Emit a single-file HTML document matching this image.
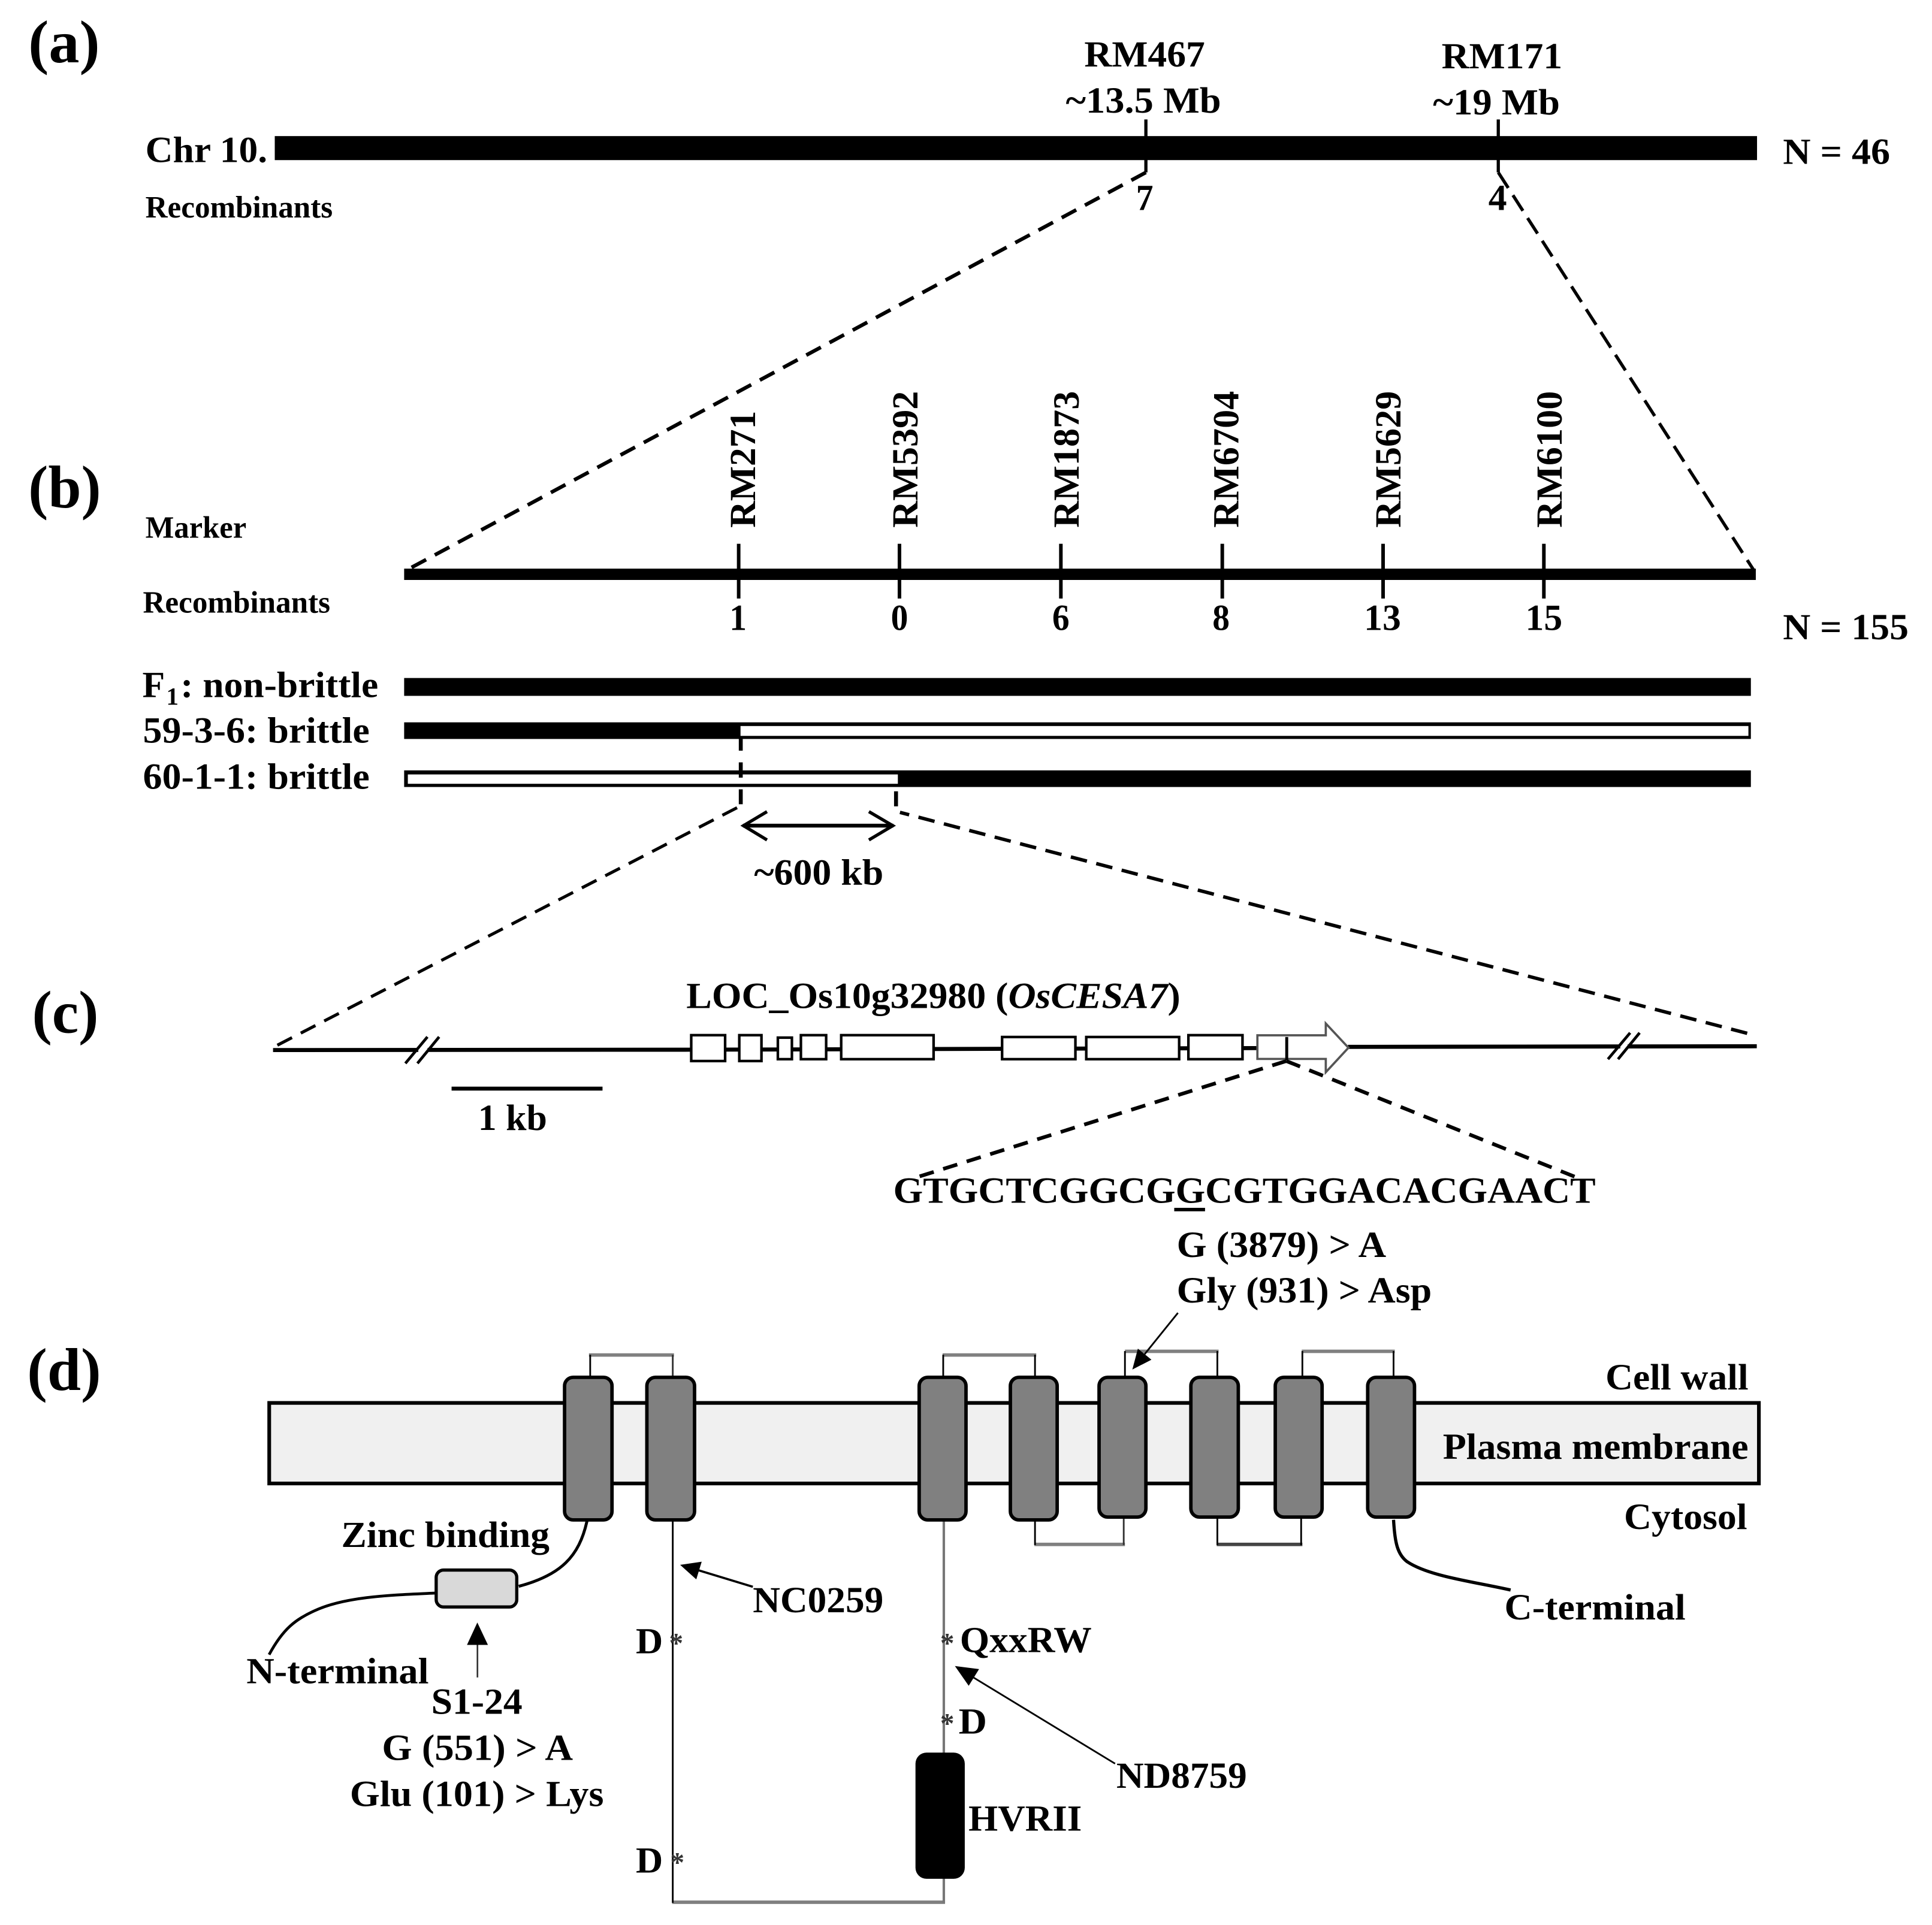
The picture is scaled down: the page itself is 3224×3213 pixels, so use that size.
<!DOCTYPE html>
<html lang="en">
<head>
<meta charset="utf-8">
<title>Fine mapping of OsCESA7</title>
<style>
html,body{margin:0;padding:0;background:#fff;width:3224px;height:3213px;overflow:hidden}
svg{display:block}
text{font-family:"Liberation Serif","Times New Roman",serif;font-weight:bold;fill:#000;font-size:30px}
.s{font-size:25px}
.h{font-size:49px}
.as{font-size:23px;fill:#333}
</style>
</head>
<body>
<svg xmlns="http://www.w3.org/2000/svg" width="3224" height="3213" viewBox="0 0 1568 1563" preserveAspectRatio="none">
<rect width="1568" height="1563" fill="#fff"/>

<!-- panel labels -->
<text class="h" x="23" y="50.5" textLength="58" lengthAdjust="spacingAndGlyphs">(a)</text>
<text class="h" x="23" y="412" textLength="59" lengthAdjust="spacingAndGlyphs">(b)</text>
<text class="h" x="26" y="838.5" textLength="54" lengthAdjust="spacingAndGlyphs">(c)</text>
<text class="h" x="22" y="1128.5" textLength="60" lengthAdjust="spacingAndGlyphs">(d)</text>

<!-- (a) -->
<text x="880" y="54" textLength="98" lengthAdjust="spacingAndGlyphs">RM467</text>
<text x="865" y="91.5" textLength="126" lengthAdjust="spacingAndGlyphs">~13.5 Mb</text>
<text x="1170" y="55.5" textLength="98" lengthAdjust="spacingAndGlyphs">RM171</text>
<text x="1163" y="93" textLength="103" lengthAdjust="spacingAndGlyphs">~19 Mb</text>
<text x="118" y="131.5" textLength="99" lengthAdjust="spacingAndGlyphs">Chr 10.</text>
<rect x="223" y="110.5" width="1203" height="19.5" fill="#000"/>
<line x1="930" y1="97" x2="930" y2="140" stroke="#000" stroke-width="2.6"/>
<line x1="1216" y1="97" x2="1216" y2="140" stroke="#000" stroke-width="2.6"/>
<text x="1447" y="133" textLength="87" lengthAdjust="spacingAndGlyphs">N = 46</text>
<text x="922" y="170.5" textLength="14" lengthAdjust="spacingAndGlyphs">7</text>
<text x="1208" y="170.5" textLength="15" lengthAdjust="spacingAndGlyphs">4</text>
<text class="s" x="118" y="176.5" textLength="152" lengthAdjust="spacingAndGlyphs">Recombinants</text>
<line x1="930" y1="140" x2="328" y2="464" stroke="#000" stroke-width="3" stroke-dasharray="13.4 8"/>
<line x1="1216" y1="140" x2="1424" y2="464" stroke="#000" stroke-width="2.6" stroke-dasharray="15 7"/>

<!-- (b) -->
<text class="s" x="118" y="436.5" textLength="82" lengthAdjust="spacingAndGlyphs">Marker</text>
<text transform="translate(612.8 428.5) rotate(-90)" textLength="95" lengthAdjust="spacingAndGlyphs">RM271</text>
<text transform="translate(744.5 428.5) rotate(-90)" textLength="111" lengthAdjust="spacingAndGlyphs">RM5392</text>
<text transform="translate(875.5 428.5) rotate(-90)" textLength="111" lengthAdjust="spacingAndGlyphs">RM1873</text>
<text transform="translate(1005 428.5) rotate(-90)" textLength="111" lengthAdjust="spacingAndGlyphs">RM6704</text>
<text transform="translate(1136.5 428.5) rotate(-90)" textLength="111" lengthAdjust="spacingAndGlyphs">RM5629</text>
<text transform="translate(1267.5 428.5) rotate(-90)" textLength="111" lengthAdjust="spacingAndGlyphs">RM6100</text>
<rect x="328" y="461.7" width="1097" height="9.2" fill="#000"/>
<g stroke="#000" stroke-width="2.9">
<line x1="599.5" y1="441.5" x2="599.5" y2="486"/>
<line x1="730" y1="441.5" x2="730" y2="486"/>
<line x1="861" y1="441.5" x2="861" y2="486"/>
<line x1="992" y1="441.5" x2="992" y2="486"/>
<line x1="1122.5" y1="441.5" x2="1122.5" y2="486"/>
<line x1="1253" y1="441.5" x2="1253" y2="486"/>
</g>
<text class="s" x="116" y="497.5" textLength="152" lengthAdjust="spacingAndGlyphs">Recombinants</text>
<text x="592" y="511.5" textLength="14" lengthAdjust="spacingAndGlyphs">1</text>
<text x="723" y="511.5" textLength="14" lengthAdjust="spacingAndGlyphs">0</text>
<text x="854" y="511.5" textLength="14" lengthAdjust="spacingAndGlyphs">6</text>
<text x="984" y="511.5" textLength="14" lengthAdjust="spacingAndGlyphs">8</text>
<text x="1107" y="511.5" textLength="30" lengthAdjust="spacingAndGlyphs">13</text>
<text x="1238" y="511.5" textLength="30" lengthAdjust="spacingAndGlyphs">15</text>
<text x="1447" y="519" textLength="102" lengthAdjust="spacingAndGlyphs">N = 155</text>

<text x="115.5" y="566">F</text>
<text x="135" y="572" style="font-size:20px">1</text>
<text x="146.5" y="566" textLength="160.5" lengthAdjust="spacingAndGlyphs">: non-brittle</text>
<rect x="328" y="550.5" width="1093" height="14.5" fill="#000"/>

<text x="116" y="603" textLength="184" lengthAdjust="spacingAndGlyphs">59-3-6: brittle</text>
<rect x="328" y="586.5" width="1093" height="13.5" fill="#000"/>
<rect x="601" y="589.5" width="818" height="8" fill="#fff"/>

<text x="116" y="640.5" textLength="184" lengthAdjust="spacingAndGlyphs">60-1-1: brittle</text>
<rect x="328" y="625.5" width="1093" height="13.5" fill="#000"/>
<rect x="331" y="628.8" width="397.7" height="7.6" fill="#fff"/>

<g stroke="#000" stroke-width="3.2">
<line x1="601.2" y1="598" x2="601.2" y2="609.5"/>
<line x1="601.2" y1="619" x2="601.2" y2="631.4"/>
<line x1="601.2" y1="640.9" x2="601.2" y2="653"/>
<line x1="727.2" y1="642.5" x2="727.2" y2="654.7"/>
</g>

<line x1="598.2" y1="655.8" x2="222.5" y2="850" stroke="#000" stroke-width="2.5" stroke-dasharray="13.4 8"/>
<line x1="1418" y1="839" x2="730.4" y2="659.6" stroke="#000" stroke-width="2.8" stroke-dasharray="13.5 7.8"/>

<line x1="603" y1="670.4" x2="725" y2="670.4" stroke="#000" stroke-width="3.1"/>
<path d="M622.5 659 L603.4 670.4 L622.5 682" fill="none" stroke="#000" stroke-width="2.6"/>
<path d="M705.2 659 L724.6 670.4 L705.2 682" fill="none" stroke="#000" stroke-width="2.6"/>
<text x="612" y="718.2" textLength="105" lengthAdjust="spacingAndGlyphs">~600 kb</text>

<!-- (c) -->
<text x="557" y="818.5" textLength="401" lengthAdjust="spacingAndGlyphs">LOC_Os10g32980 (<tspan font-style="italic">OsCESA7</tspan>)</text>
<path d="M221.6 852.6 L561 852.3 L1020 851 M1094 850 L1425.8 849.5" fill="none" stroke="#000" stroke-width="3.3"/>
<g fill="#fff" stroke="#000" stroke-width="2.1">
<rect x="561" y="840.5" width="27.5" height="21"/>
<rect x="600" y="840.5" width="18" height="21"/>
<rect x="631.3" y="842.5" width="11.4" height="17.5"/>
<rect x="650" y="840.5" width="20.5" height="19.5"/>
<rect x="682.7" y="840.5" width="75" height="19.5"/>
<rect x="813.3" y="842" width="59.5" height="18"/>
<rect x="881.6" y="842" width="75.4" height="18"/>
<rect x="964.5" y="840.5" width="43.9" height="19.5"/>
</g>
<path d="M1020.5 840.6 H1076 V831 L1094.4 850.7 L1076 870.6 V859.8 H1020.5 Z" fill="#fff" stroke="#555" stroke-width="1.8"/>
<line x1="1044.3" y1="842" x2="1044.3" y2="861" stroke="#000" stroke-width="2.4"/>
<!-- break marks -->
<line x1="339.5" y1="852.6" x2="347" y2="852.6" stroke="#fff" stroke-width="4.4"/>
<line x1="1315" y1="849.5" x2="1321" y2="849.5" stroke="#fff" stroke-width="4.4"/>
<g stroke="#000" stroke-width="2.3" fill="none">
<line x1="329" y1="863.4" x2="346.9" y2="841.9"/>
<line x1="338.8" y1="863.4" x2="356.4" y2="841.9"/>
<line x1="1305" y1="860" x2="1323" y2="838.6"/>
<line x1="1313.2" y1="860" x2="1330.7" y2="838.6"/>
</g>
<rect x="366.5" y="882.3" width="122.5" height="3.2" fill="#000"/>
<text x="388" y="917.5" textLength="56" lengthAdjust="spacingAndGlyphs">1 kb</text>
<line x1="1044" y1="861.5" x2="742" y2="956.5" stroke="#000" stroke-width="3" stroke-dasharray="12 8"/>
<line x1="1044" y1="861.5" x2="1282" y2="957" stroke="#000" stroke-width="3" stroke-dasharray="12 8"/>
<text x="725" y="976.5" textLength="570" lengthAdjust="spacingAndGlyphs">GTGCTCGGCGGCGTGGACACGAACT</text>
<rect x="953" y="980.7" width="25" height="2.8" fill="#000"/>
<text x="955" y="1020.5" textLength="170" lengthAdjust="spacingAndGlyphs">G (3879) &gt; A</text>
<text x="955" y="1057.5" textLength="207" lengthAdjust="spacingAndGlyphs">Gly (931) &gt; Asp</text>

<!-- (d) -->
<rect x="218.5" y="1139.1" width="1209" height="65.4" fill="#f0f0f0" stroke="#000" stroke-width="3"/>
<g fill="none" stroke="#808080" stroke-width="2.8">
<path d="M478 1100.2 H547"/>
<path d="M765 1100.2 H841"/>
<path d="M913 1097.2 H989"/>
<path d="M1056.5 1097.2 H1132"/>
<path d="M839.5 1254 H913"/>
<path d="M987.5 1254 H1057" stroke="#444"/>
<path d="M545.5 1544.5 H767"/>
</g>
<g fill="none" stroke="#000" stroke-width="1.4">
<path d="M479 1118 V1100"/>
<path d="M546 1118 V1100" stroke="#333"/>
<path d="M765.5 1118 V1100"/>
<path d="M840 1118 V1100"/>
<path d="M913 1118 V1097"/>
<path d="M988 1118 V1097"/>
<path d="M1057 1118 V1097"/>
<path d="M1131 1118 V1097"/>
<path d="M840 1233 V1254.5"/>
<path d="M912 1233 V1254.5" stroke="#333"/>
<path d="M988 1233 V1254.5"/>
<path d="M1056 1233 V1254.5"/>
<path d="M546 1234 V1545"/>
</g>
<path d="M766 1234 V1545" fill="none" stroke="#777" stroke-width="2"/>
<g fill="#808080" stroke="#000" stroke-width="2.8">
<rect x="458.2" y="1118.3" width="38.5" height="115.8" rx="7"/>
<rect x="525" y="1118.3" width="38.7" height="115.8" rx="7"/>
<rect x="746" y="1118.3" width="38" height="115.8" rx="7"/>
<rect x="820" y="1118.3" width="38" height="115.8" rx="7"/>
<rect x="892" y="1118.3" width="38" height="113.5" rx="7"/>
<rect x="966.5" y="1118.3" width="38.5" height="113.5" rx="7"/>
<rect x="1035" y="1118.3" width="38" height="113.5" rx="7"/>
<rect x="1110" y="1118.3" width="38" height="113.5" rx="7"/>
</g>
<rect x="743" y="1423" width="40" height="102.5" rx="9" fill="#000"/>
<path d="M476.4 1235 C470 1264 455 1279 421 1288" fill="none" stroke="#000" stroke-width="2.4"/>
<path d="M353 1293.5 C320 1295 280 1296 255 1308 C240 1315 230 1322 218.4 1343.5" fill="none" stroke="#000" stroke-width="2.3"/>
<path d="M1131 1234 C1132 1252 1134 1262 1142 1268 C1160 1280 1195 1284 1226 1291" fill="none" stroke="#000" stroke-width="2.6"/>
<rect x="354" y="1274.8" width="65.4" height="30" rx="6" fill="#d9d9d9" stroke="#000" stroke-width="2.6"/>

<!-- arrows -->
<line x1="956" y1="1066" x2="929" y2="1099.5" stroke="#000" stroke-width="1.4"/>
<polygon points="919,1112 934.5,1104 923.5,1095" fill="#000"/>
<line x1="387.5" y1="1362" x2="387.5" y2="1335" stroke="#333" stroke-width="1.3"/>
<polygon points="387.4,1317.4 379,1335.6 396,1335.6" fill="#000"/>
<line x1="611" y1="1288.4" x2="567" y2="1275" stroke="#000" stroke-width="1.8"/>
<polygon points="552,1270.6 565.1,1282.4 569.5,1268" fill="#000"/>
<line x1="905" y1="1432" x2="790" y2="1362" stroke="#000" stroke-width="1.4"/>
<polygon points="775,1352.7 786.2,1368.8 794.6,1355.2" fill="#000"/>

<!-- (d) labels -->
<text x="1303" y="1128" textLength="116" lengthAdjust="spacingAndGlyphs">Cell wall</text>
<text x="1171" y="1184.5" textLength="248" lengthAdjust="spacingAndGlyphs">Plasma membrane</text>
<text x="1318" y="1241.5" textLength="100" lengthAdjust="spacingAndGlyphs">Cytosol</text>
<text x="277" y="1256" textLength="169" lengthAdjust="spacingAndGlyphs">Zinc binding</text>
<text x="611" y="1309" textLength="106" lengthAdjust="spacingAndGlyphs">NC0259</text>
<text x="1221" y="1315" textLength="147" lengthAdjust="spacingAndGlyphs">C-terminal</text>
<text x="516" y="1342.5" textLength="22" lengthAdjust="spacingAndGlyphs">D</text>
<text class="as" x="543" y="1342">*</text>
<text class="as" x="763" y="1342">*</text>
<text x="779" y="1341.5" textLength="107" lengthAdjust="spacingAndGlyphs">QxxRW</text>
<text x="200" y="1366.7" textLength="148" lengthAdjust="spacingAndGlyphs">N-terminal</text>
<text x="350" y="1391.5" textLength="74" lengthAdjust="spacingAndGlyphs">S1-24</text>
<text class="as" x="763" y="1407">*</text>
<text x="778" y="1407.5" textLength="23" lengthAdjust="spacingAndGlyphs">D</text>
<text x="310" y="1429" textLength="155" lengthAdjust="spacingAndGlyphs">G (551) &gt; A</text>
<text x="906" y="1451.5" textLength="106" lengthAdjust="spacingAndGlyphs">ND8759</text>
<text x="284" y="1466.5" textLength="206" lengthAdjust="spacingAndGlyphs">Glu (101) &gt; Lys</text>
<text x="786" y="1486.5" textLength="92" lengthAdjust="spacingAndGlyphs">HVRII</text>
<text x="516" y="1520.5" textLength="22" lengthAdjust="spacingAndGlyphs">D</text>
<text class="as" x="544" y="1520">*</text>
</svg>
</body>
</html>
